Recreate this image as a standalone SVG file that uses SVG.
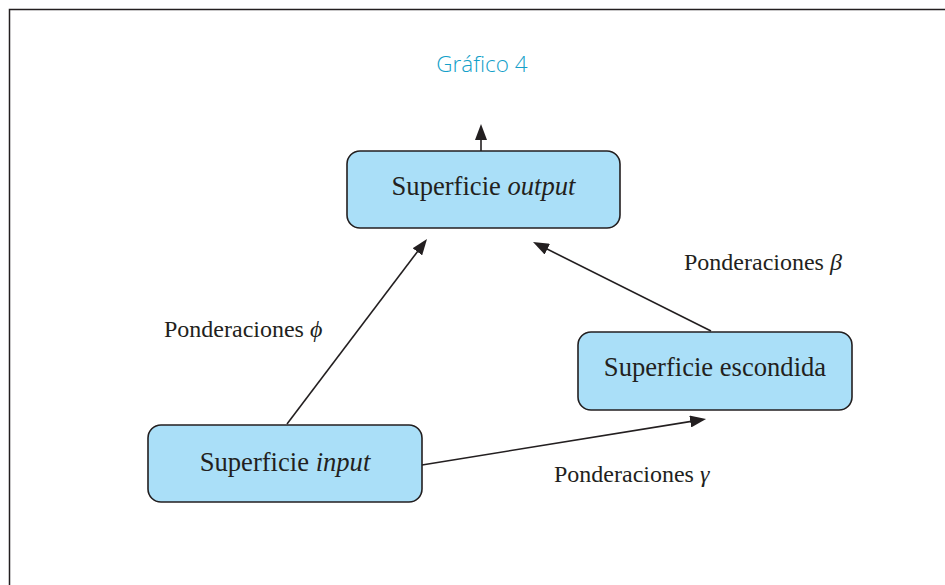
<svg xmlns="http://www.w3.org/2000/svg" width="945" height="585" viewBox="0 0 945 585">
<style>
.box{fill:#aadff8;stroke:#231f20;stroke-width:1.6}
.bt{font-family:"Liberation Serif","Times New Roman",serif;font-size:26.6px;fill:#231f20;text-anchor:middle}
.lb{font-family:"Liberation Serif","Times New Roman",serif;font-size:24px;fill:#231f20}
.it{font-style:italic}
.con{stroke:#231f20;stroke-width:1.6;fill:none;marker-end:url(#ah)}
</style>
<defs>
<marker id="ah" markerUnits="userSpaceOnUse" markerWidth="16" markerHeight="12" refX="12" refY="6" orient="auto">
<path d="M0,0 L16,6 L0,12 z" fill="#231f20"/>
</marker>
</defs>
<rect width="945" height="585" fill="#ffffff"/>
<path d="M9.5,585 V9.5 H945" fill="none" stroke="#231f20" stroke-width="1.5"/>
<text x="482" y="72" font-family="'Open Sans','DejaVu Sans',sans-serif" font-weight="300" font-size="22.5" fill="#149fc9" text-anchor="middle">Gráfico 4</text>
<g id="connectors">
<line class="con" x1="481" y1="151" x2="481" y2="128"/>
<line class="con" x1="287" y1="424" x2="424.6" y2="242.2"/>
<line class="con" x1="711" y1="331" x2="536.6" y2="243.8"/>
<line class="con" x1="422" y1="465" x2="702.1" y2="419.6"/>
</g>
<g id="output">
<rect class="box" x="347" y="151" width="273" height="77" rx="13"/>
<text class="bt" x="483.5" y="195">Superficie <tspan class="it">output</tspan></text>
</g>
<g id="input">
<rect class="box" x="148" y="425" width="274" height="77" rx="13"/>
<text class="bt" x="285" y="471">Superficie <tspan class="it">input</tspan></text>
</g>
<g id="hidden">
<rect class="box" x="578" y="332" width="274" height="78" rx="13"/>
<text class="bt" x="715" y="376">Superficie escondida</text>
</g>
<g id="labels">
<text class="lb" x="164" y="337">Ponderaciones <tspan class="it">ϕ</tspan></text>
<text class="lb" x="684" y="270">Ponderaciones <tspan class="it">β</tspan></text>
<text class="lb" x="554" y="482">Ponderaciones <tspan class="it">γ</tspan></text>
</g>
</svg>
